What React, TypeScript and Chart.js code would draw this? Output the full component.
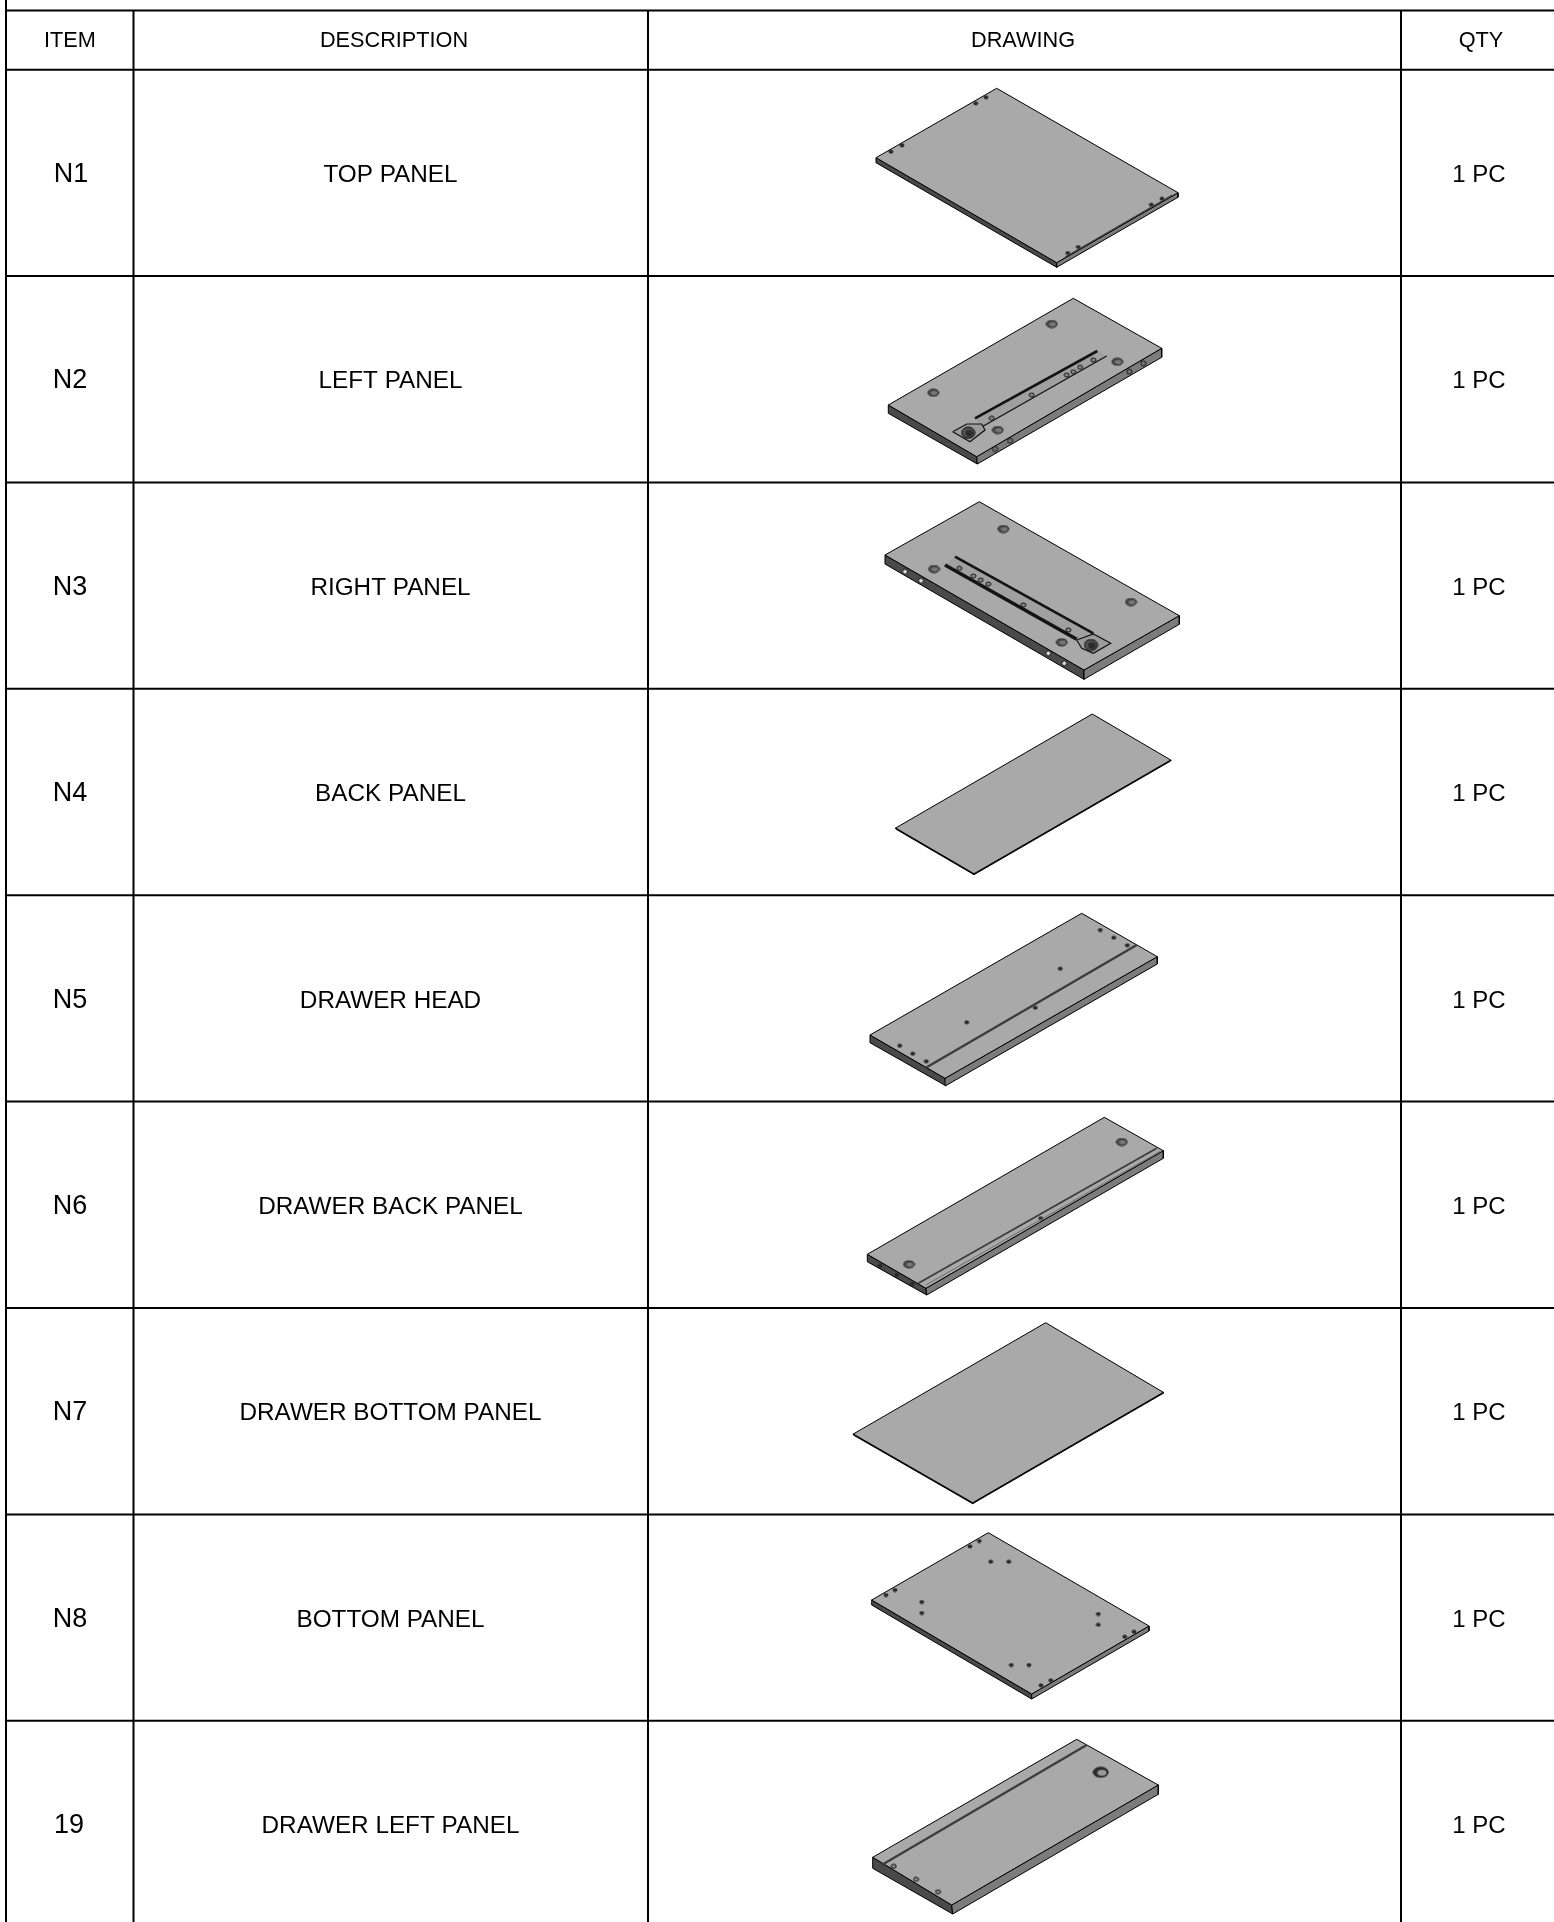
import React, { useEffect, useRef } from "react";
import { Chart, registerables } from "chart.js";

Chart.register(...registerables);

type P = [number, number];

const WIDTH = 1554;
const HEIGHT = 1922;

// table
const columnEdges = [6, 133.5, 648, 1401];
const rowEdges = [10.5, 69.7, 276, 482.4, 688.8, 895.2, 1101.6, 1308, 1514.4, 1720.8];
const headers = ["ITEM", "DESCRIPTION", "DRAWING", "QTY"];
const headerCentersX = [70, 394, 1023, 1481];
const headerCenterY = 41.5;
const items = ["N1", "N2", "N3", "N4", "N5", "N6", "N7", "N8", "19"];
const itemCentersX = [71, 70, 70, 70, 70, 70, 70, 70, 69];
const descriptions = [
  "TOP PANEL",
  "LEFT PANEL",
  "RIGHT PANEL",
  "BACK PANEL",
  "DRAWER HEAD",
  "DRAWER BACK PANEL",
  "DRAWER BOTTOM PANEL",
  "BOTTOM PANEL",
  "DRAWER LEFT PANEL",
];
const quantities = ["1 PC", "1 PC", "1 PC", "1 PC", "1 PC", "1 PC", "1 PC", "1 PC", "1 PC"];
const rowCentersY = [175, 381, 588, 794, 1001, 1207, 1413, 1620, 1826];
const descriptionCenterX = 390.5;
const qtyCenterX = 1479;

// drawings: top face [left, top, right, bottom], underside [left, bottom, right]
const n1Top: P[] = [[876, 157.7], [996.7, 88.3], [1178, 192.7], [1056.7, 262.7]];
const n1Low: P[] = [[876, 162.7], [1056.7, 267.3], [1178, 197.3]];
const n1Dots: P[] = [[891, 151.7], [902, 145.3], [975.7, 103.3], [986, 97.3], [1067.7, 253], [1078.3, 247], [1151.3, 204.7], [1162, 198.7]];
const n1Lines: P[][] = [[[1065, 257], [1172, 195]]];

const n2Top: P[] = [[888.3, 405], [1073.3, 298.3], [1161.7, 348.3], [976.7, 456.7]];
const n2Low: P[] = [[888.3, 413.3], [977.3, 464], [1161.7, 357.3]];
const n2Holes: P[] = [[933.3, 392.7], [1051.7, 324], [1117.3, 361.7], [997.7, 430]];
const n2SideHoles: P[] = [[995, 449], [1010, 440.7], [1129.3, 371.7], [1143.3, 363.3]];
const n2RailBody: P[] = [[975, 418.3], [1097.3, 351], [1106.7, 356], [981.7, 427]];
const n2Rails: P[][] = [
  [[975, 418.3], [1097.3, 351]],
  [[981.7, 427], [1106.7, 356]],
];
const n2Plate: P[] = [[952.7, 431.7], [966.7, 424], [981.7, 424], [985, 430], [970, 441.7]];
const n2Wheel: P[] = [[968.3, 432.7]];
const n2Bumps: P[] = [[991.7, 418.3], [1031.7, 395], [1066.7, 375], [1073.3, 371.7], [1080, 367.3], [1093.3, 360]];

const n3Top: P[] = [[885, 555], [979.3, 501.7], [1179.3, 615.7], [1084, 670]];
const n3Low: P[] = [[885, 564], [1084, 679.3], [1179.3, 624.3]];
const n3Holes: P[] = [[1003.3, 529], [934, 569], [1131, 602], [1061.7, 642.3]];
const n3SideHoles: P[] = [[905, 571.7], [921, 580.7], [1048.3, 653.3], [1064.3, 663.3]];
const n3RailBody: P[] = [[955, 556.7], [1093.3, 633.3], [1076.7, 640], [945, 565]];
const n3Rails: P[][] = [
  [[955, 556.7], [1093.3, 633.3]],
  [[945, 565], [1076.7, 639.3]],
];
const n3Plate: P[] = [[1076.7, 640], [1093.3, 634], [1110.7, 643.3], [1093.3, 653.3], [1081.7, 648.3]];
const n3Wheel: P[] = [[1091, 645]];
const n3Bumps: P[] = [[959.3, 568.3], [973.3, 576], [980.7, 580], [988.3, 584], [1023.3, 605], [1068.3, 630]];

const n4Top: P[] = [[895.7, 828], [1092.3, 714], [1170.7, 760], [974, 873.7]];
const n4Low: P[] = [[895.7, 829], [974, 874.7], [1170.7, 761]];

const n5Top: P[] = [[870, 1035], [1081.7, 913.3], [1157.3, 956.7], [945, 1078.3]];
const n5Low: P[] = [[870, 1042.7], [945.7, 1085.7], [1157.3, 964]];
const n5Dots: P[] = [[899.7, 1045.7], [912.7, 1053.7], [926.3, 1061.3], [966.7, 1022.3], [1035.3, 1007.7], [1060.3, 968.7], [1100.3, 930], [1113.7, 937.7], [1127.3, 945.3]];
const n5Lines: P[][] = [[[925, 1068.3], [1136.7, 945]]];

const n6Top: P[] = [[867.3, 1254.3], [1104.3, 1117.3], [1163.3, 1150.7], [926, 1288.3]];
const n6Low: P[] = [[867.3, 1261.7], [926.7, 1295], [1163.3, 1158.3]];
const n6Holes: P[] = [[909, 1264.3], [1121.7, 1142]];
const n6Dots: P[] = [[1040.7, 1218.3], [880, 1265.7], [896.7, 1275], [912.3, 1284]];
const n6Lines: P[][] = [[[918.3, 1283.3], [1156.7, 1148.3]]];
const n6SoftLines: P[][] = [[[926, 1285], [1160, 1151.5]]];

const n7Top: P[] = [[853.3, 1434], [1045.7, 1322.7], [1163.3, 1392.3], [972.7, 1502.7]];
const n7Low: P[] = [[853.3, 1435], [972.7, 1503.7], [1163.3, 1393.3]];

const n8Top: P[] = [[871.7, 1600], [988.3, 1532.7], [1149, 1626], [1031.7, 1694]];
const n8Low: P[] = [[871.7, 1605], [1031.7, 1699], [1149, 1631]];
const n8Dots: P[] = [[886, 1595], [895, 1590], [970, 1546.3], [979.3, 1541], [990.7, 1561.7], [1008.7, 1561.7], [921.7, 1602], [921.7, 1613], [1098.3, 1614], [1098.3, 1624.7], [1011.3, 1665], [1029, 1665], [1041, 1685.3], [1050.7, 1680.3], [1124.7, 1636.7], [1134, 1631.7]];

const n19Top: P[] = [[872.7, 1857.3], [1076.7, 1739.3], [1158.3, 1785], [951.7, 1905]];
const n19Low: P[] = [[872.7, 1868.3], [952.7, 1914], [1158.3, 1794.3]];
const n19Hole: P[] = [[1100.7, 1772.3]];
const n19Dots: P[] = [[893.7, 1866.3], [916, 1879.3], [938, 1891.7]];
const n19Lines: P[][] = [[[881.7, 1865], [1086.7, 1745]]];

const TOP_FILL = "#a9a9a9";
const LONG_FACE = "#4a4a4a";
const END_FACE = "#7c7c7c";
const INK = "#000000";
const GROOVE = "#3c3c3c";

const xy = (pts: P[]) => pts.map(([x, y]) => ({ x, y }));

function sprite(w: number, h: number, fill: string, stroke: string, inner?: string) {
  const c = document.createElement("canvas");
  c.width = w + 2;
  c.height = h + 2;
  const g = c.getContext("2d")!;
  g.beginPath();
  g.ellipse(c.width / 2, c.height / 2, w / 2, h / 2, 0, 0, Math.PI * 2);
  g.fillStyle = fill;
  g.fill();
  g.strokeStyle = stroke;
  g.lineWidth = 1;
  g.stroke();
  if (inner) {
    g.beginPath();
    g.ellipse(c.width / 2 + w * 0.08, c.height / 2 + h * 0.05, w * 0.3, h * 0.3, 0, 0, Math.PI * 2);
    g.fillStyle = inner;
    g.fill();
  }
  return c;
}

function polygon(pts: P[], fill: string, stroke = INK, width = 1) {
  const closed = [...pts, pts[0]];
  return {
    type: "scatter",
    data: xy(closed),
    showLine: true,
    fill: "shape",
    backgroundColor: fill,
    borderColor: stroke,
    borderWidth: width,
    pointRadius: 0,
    tension: 0,
  };
}

function line(pts: P[], color: string, width: number) {
  return {
    type: "scatter",
    data: xy(pts),
    showLine: true,
    fill: false,
    borderColor: color,
    borderWidth: width,
    pointRadius: 0,
    tension: 0,
  };
}

function marks(pts: P[], style: any) {
  return {
    type: "scatter",
    data: xy(pts),
    showLine: false,
    pointStyle: style,
    pointRadius: 4,
    pointBorderWidth: 0,
    backgroundColor: "#000",
  };
}

function panel(top: P[], low: P[]) {
  const [L, , R, B] = top;
  const [LL, LB, LR] = low;
  return [
    polygon([L, B, LB, LL], LONG_FACE),
    polygon([B, R, LR, LB], END_FACE),
    polygon(top, TOP_FILL),
  ];
}

const textPlugin = {
  id: "tableText",
  afterDatasetsDraw(chart: any) {
    const { ctx, scales } = chart;
    const put = (s: string, x: number, y: number, size: number) => {
      ctx.font = `${size}px "Liberation Sans", Arial, sans-serif`;
      ctx.fillText(s, scales.x.getPixelForValue(x), scales.y.getPixelForValue(y));
    };
    ctx.save();
    ctx.fillStyle = "#000";
    ctx.textAlign = "center";
    ctx.textBaseline = "middle";
    headers.forEach((h, i) => put(h, headerCentersX[i], headerCenterY, 21.7));
    rowCentersY.forEach((y, i) => {
      put(items[i], itemCentersX[i], y, 27);
      put(descriptions[i], descriptionCenterX, y, 24.3);
      put(quantities[i], qtyCenterX, y, 24);
    });
    ctx.restore();
  },
};

export default function App() {
  const ref = useRef<HTMLCanvasElement | null>(null);
  useEffect(() => {
    const dot = sprite(4, 3, "#2a2a2a", "#222");
    const sideHole = sprite(5, 5, "#777", "#111");
    const sideHoleLight = sprite(5, 5, "#ddd", "#111");
    const bigHole = sprite(11, 7, "#4a4a4a", "#222", "#777777");
    const hugeHole = sprite(15, 10, "#2c2c2c", "#1a1a1a", "#9a9a9a");
    const bump = sprite(5, 4, "#8a8a8a", "#111");
    const wheel = sprite(13, 11, "#555", "#000", "#2c2c2c");

    const grid = [
      line([[columnEdges[0], 0], [columnEdges[0], HEIGHT]], INK, 2),
      ...columnEdges.slice(1).map((x) => line([[x, rowEdges[0]], [x, HEIGHT]], INK, 2)),
      ...rowEdges.map((y) => line([[columnEdges[0], y], [WIDTH, y]], INK, 2)),
    ];

    const datasets: any[] = [
      ...grid,
      ...panel(n1Top, n1Low),
      marks(n1Dots, dot),
      ...n1Lines.map((l) => line(l, GROOVE, 1)),
      ...panel(n2Top, n2Low),
      marks(n2Holes, bigHole),
      marks(n2SideHoles, sideHole),
      polygon(n2RailBody, "#a0a0a0", "rgba(0,0,0,0)", 0),
      ...n2Rails.map((l, i) => line(l, "#141414", i === 0 ? 2.6 : 1.4)),
      polygon(n2Plate, "#9c9c9c", "#111", 1.2),
      marks(n2Bumps, bump),
      marks(n2Wheel, wheel),
      ...panel(n3Top, n3Low),
      marks(n3Holes, bigHole),
      marks(n3SideHoles, sideHoleLight),
      polygon(n3RailBody, "#a0a0a0", "rgba(0,0,0,0)", 0),
      ...n3Rails.map((l, i) => line(l, "#141414", i === 0 ? 2.6 : 3.6)),
      polygon(n3Plate, "#9c9c9c", "#111", 1.2),
      marks(n3Bumps, bump),
      marks(n3Wheel, wheel),
      ...panel(n4Top, n4Low),
      ...panel(n5Top, n5Low),
      marks(n5Dots, dot),
      ...n5Lines.map((l) => line(l, GROOVE, 2.4)),
      ...panel(n6Top, n6Low),
      marks(n6Holes, bigHole),
      marks(n6Dots, dot),
      ...n6Lines.map((l) => line(l, GROOVE, 1.8)),
      ...n6SoftLines.map((l) => line(l, "#6c6c6c", 1)),
      ...panel(n7Top, n7Low),
      ...panel(n8Top, n8Low),
      marks(n8Dots, dot),
      ...panel(n19Top, n19Low),
      marks(n19Hole, hugeHole),
      marks(n19Dots, bump),
      ...n19Lines.map((l) => line(l, GROOVE, 2.2)),
    ];
    datasets.forEach((d, i) => {
      d.order = datasets.length - i;
    });

    const chart = new Chart(ref.current!, {
      type: "scatter",
      data: { datasets },
      plugins: [textPlugin],
      options: {
        animation: false,
        responsive: false,
        devicePixelRatio: 1,
        layout: { padding: 0, autoPadding: false },
        clip: false,
        plugins: { legend: { display: false }, tooltip: { enabled: false }, title: { display: false } },
        scales: {
          x: { type: "linear", min: 0, max: WIDTH, display: false },
          y: { type: "linear", min: 0, max: HEIGHT, reverse: true, display: false },
        },
      },
    } as any);
    return () => chart.destroy();
  }, []);
  return (
    <div style={{ position: "absolute", left: 0, top: 0, width: WIDTH, height: HEIGHT, background: "#fff" }}>
      <canvas ref={ref} width={WIDTH} height={HEIGHT} style={{ display: "block" }} />
    </div>
  );
}
